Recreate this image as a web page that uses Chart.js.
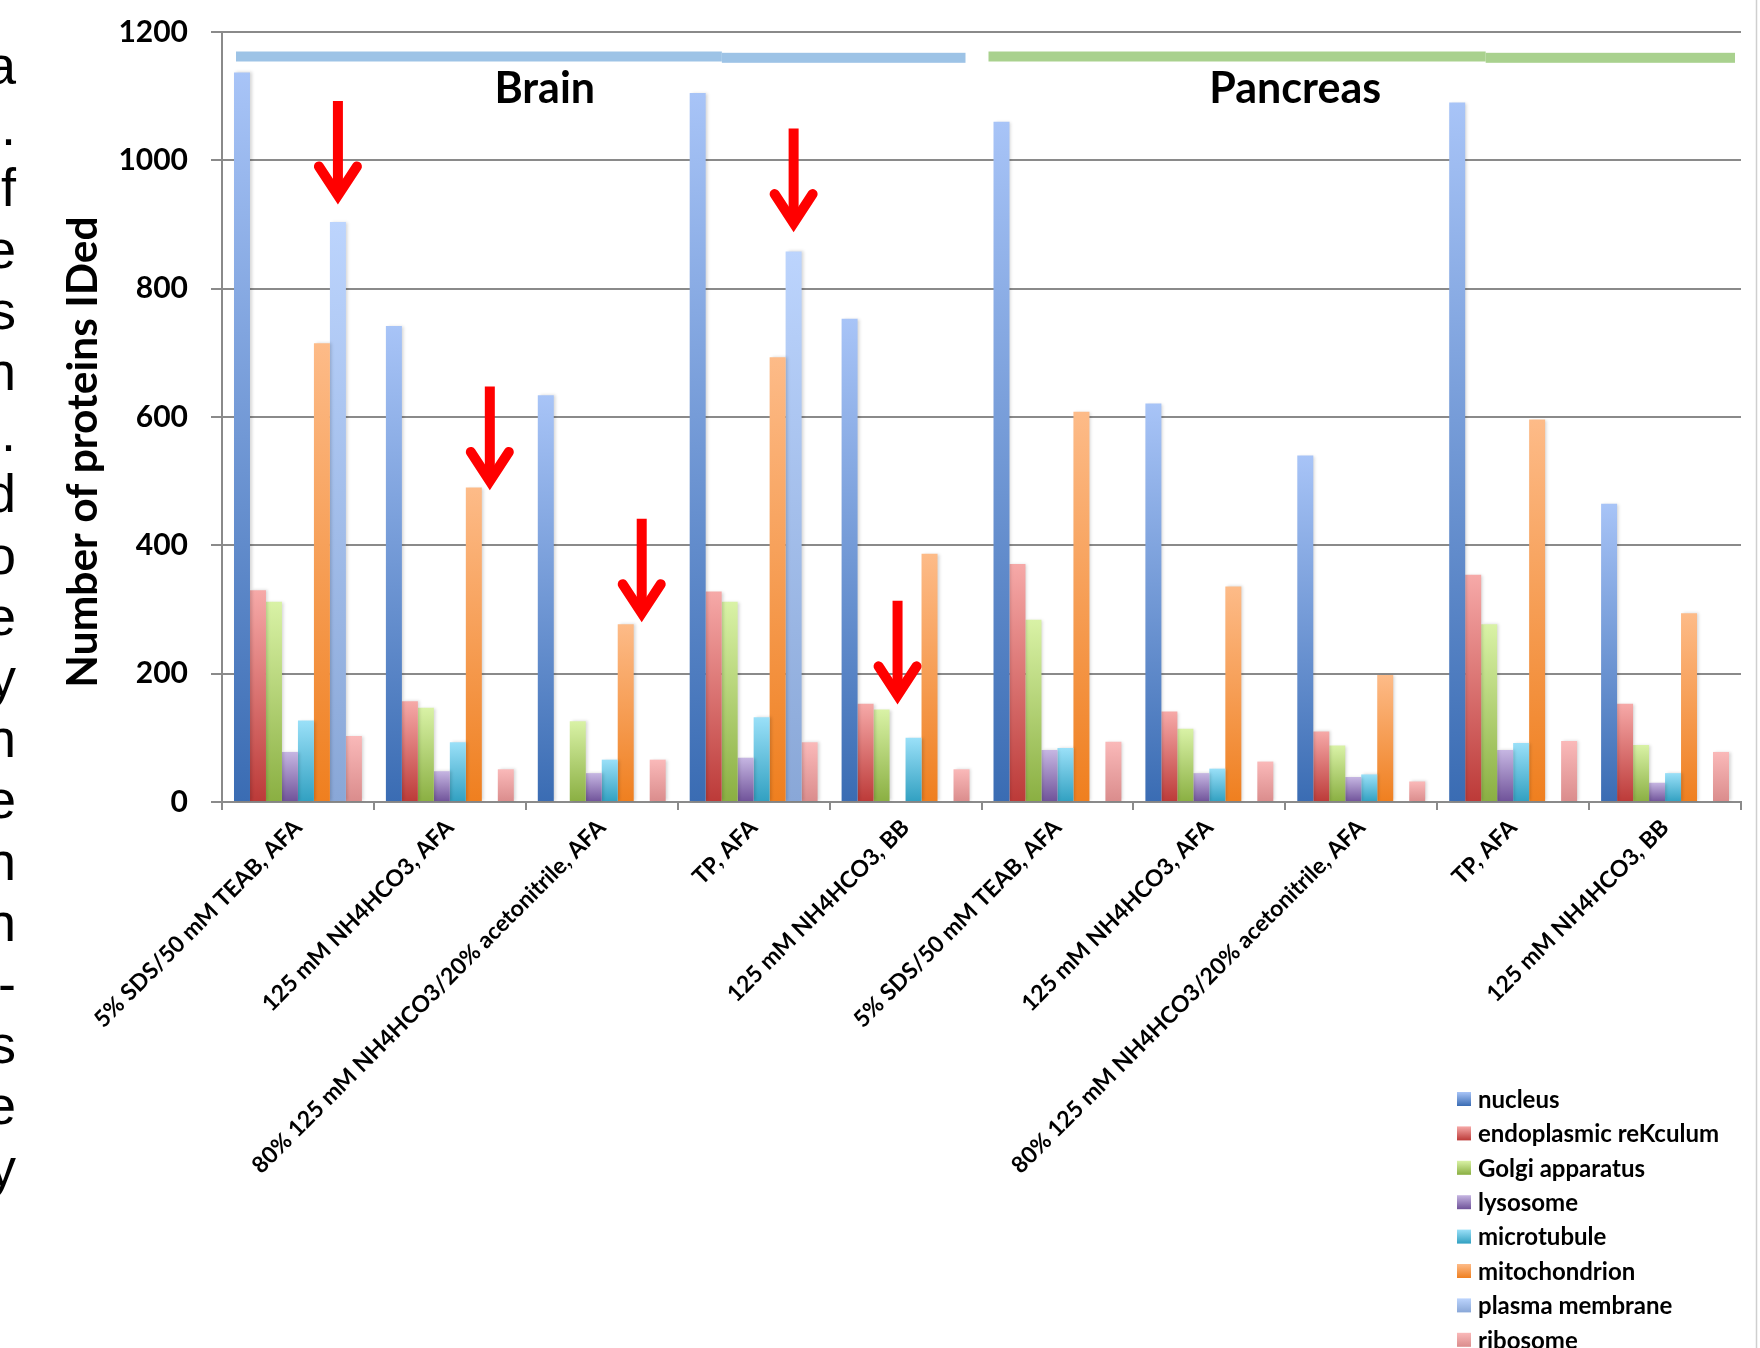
<!DOCTYPE html>
<html>
<head>
<meta charset="utf-8">
<title>Number of proteins IDed by subcellular location</title>
<script src="https://cdn.jsdelivr.net/npm/chart.js@4.4.0/dist/chart.umd.min.js"></script>
<style>
  html, body { margin: 0; padding: 0; background: #ffffff; }
  #wrap { position: relative; width: 1760px; height: 1348px; }
</style>
</head>
<body>
<div id="wrap"><canvas id="chart"></canvas></div>
<script>
// ---- data ---------------------------------------------------------------
const categories = [
  '5% SDS/50 mM TEAB, AFA',
  '125 mM NH4HCO3, AFA',
  '80% 125 mM NH4HCO3/20% acetonitrile, AFA',
  'TP, AFA',
  '125 mM NH4HCO3, BB',
  '5% SDS/50 mM TEAB, AFA',
  '125 mM NH4HCO3, AFA',
  '80% 125 mM NH4HCO3/20% acetonitrile, AFA',
  'TP, AFA',
  '125 mM NH4HCO3, BB'
];

const seriesNames = [
  'nucleus', 'endoplasmic reKculum', 'Golgi apparatus', 'lysosome',
  'microtubule', 'mitochondrion', 'plasma membrane', 'ribosome'
];

const nucleus              = [1137, 742, 634, 1105, 753, 1060, 621, 540, 1090, 465];
const endoplasmicReticulum = [330, 157, null, 328, 153, 371, 141, 110, 354, 153];
const golgiApparatus       = [312, 147, 126, 312, 144, 284, 114, 88, 277, 89];
const lysosome             = [78, 48, 45, 69, null, 81, 45, 39, 81, 30];
const microtubule          = [127, 93, 66, 132, 100, 84, 52, 43, 92, 45];
const mitochondrion        = [715, 490, 277, 693, 387, 608, 336, 198, 596, 294];
const plasmaMembrane       = [904, null, null, 858, null, null, null, null, null, null];
const ribosome             = [103, 51, 66, 93, 51, 94, 63, 32, 95, 78];

const yTicks = [0, 200, 400, 600, 800, 1000, 1200];

const tissueNames  = ['Brain', 'Pancreas'];
const tissueFirst  = [0, 5];
const tissueLast   = [4, 9];

// arrows: category index, series index, value at the arrow tip
const arrowCategory = [0, 1, 2, 3, 4];
const arrowSeries   = [6, 6, 6, 6, 3];
const arrowTip      = [932, 487, 281, 889, 153];

// line endings of the neighbouring text column
const marginGlyphs = ['a', '.', 'f', 'e', 's', 'n', '.', 'd', 'o', 'e',
                      'y', 'n', 'e', 'n', 'n', '-', 's', 'e', 'y'];

// ---- styles -------------------------------------------------------------
const FONT = 'Lato, "Open Sans", "DejaVu Sans", sans-serif';
const palette = [
  ['#a8c4f7', '#3a6cb3'],   // nucleus
  ['#f6a9a8', '#bc3a38'],   // endoplasmic reticulum
  ['#d9f2a6', '#8aaf42'],   // Golgi
  ['#c6b6e2', '#6f5299'],   // lysosome
  ['#9ae0f8', '#31a0c1'],   // microtubule
  ['#fdbb88', '#ef7f1f'],   // mitochondrion
  ['#bcd4fd', '#89a7d7'],   // plasma membrane
  ['#fab9b9', '#da8c8c']    // ribosome
];
const GROUP_FRACTION = 0.842;
const GRID = '#8a8a8a';

const seriesValues = [nucleus, endoplasmicReticulum, golgiApparatus, lysosome,
                      microtubule, mitochondrion, plasmaMembrane, ribosome];

// vertical gradient running from the top of each bar down to the baseline
function barGradient(i) {
  return function (c) {
    const [light, dark] = palette[i];
    const chart = c.chart;
    const ys = chart.scales && chart.scales.y;
    if (c.type !== 'data' || !ys || c.raw == null) return dark;
    const top = ys.getPixelForValue(c.raw);
    const base = ys.getPixelForValue(0);
    if (!isFinite(top) || !isFinite(base) || top === base) return dark;
    const g = chart.ctx.createLinearGradient(0, top, 0, base);
    g.addColorStop(0, light);
    g.addColorStop(1, dark);
    return g;
  };
}

// ---- plugins ------------------------------------------------------------
const marginTextPlugin = {
  id: 'marginText',
  beforeDraw(chart) {
    const ctx = chart.ctx;
    ctx.save();
    ctx.fillStyle = '#000';
    ctx.font = '54px "Liberation Sans", Arial, sans-serif';
    ctx.textAlign = 'right';
    ctx.textBaseline = 'alphabetic';
    marginGlyphs.forEach((g, i) => ctx.fillText(g, 16, 84 + i * 61.2));
    ctx.restore();
  }
};

const barShadowPlugin = {
  id: 'barShadow',
  beforeDatasetsDraw(chart) {
    const ctx = chart.ctx;
    ctx.save();
    ctx.shadowColor = 'rgba(0,0,0,0.16)';
    ctx.shadowBlur = 3;
    ctx.shadowOffsetX = 2;
    ctx.shadowOffsetY = 0;
  },
  afterDatasetsDraw(chart) {
    chart.ctx.restore();
  }
};

const arrowPlugin = {
  id: 'arrows',
  afterDatasetsDraw(chart) {
    const { ctx, scales: { x, y } } = chart;
    const n = chart.data.datasets.length;
    const slot = (x.width / chart.data.labels.length) * GROUP_FRACTION / n;
    const shaft = 103, wingDx = 19, wingDy = 29, miter = 8.5;
    arrowCategory.forEach((cat, k) => {
      const cx = x.getPixelForValue(cat) + (arrowSeries[k] - (n - 1) / 2) * slot;
      const tipY = y.getPixelForValue(arrowTip[k]);
      const vy = tipY - miter;
      ctx.save();
      ctx.strokeStyle = '#ff0000';
      ctx.lineWidth = 10;
      ctx.lineCap = 'butt';
      ctx.beginPath();
      ctx.moveTo(cx, tipY - shaft);
      ctx.lineTo(cx, vy);
      ctx.stroke();
      ctx.lineCap = 'round';
      ctx.lineJoin = 'miter';
      ctx.miterLimit = 10;
      ctx.beginPath();
      ctx.moveTo(cx - wingDx, vy - wingDy);
      ctx.lineTo(cx, vy);
      ctx.lineTo(cx + wingDx, vy - wingDy);
      ctx.stroke();
      ctx.restore();
    });
  }
};

const tissuePlugin = {
  id: 'tissueBands',
  afterDatasetsDraw(chart) {
    const { ctx, scales: { x } } = chart;
    const half = x.width / chart.data.labels.length / 2;
    const bandColor = ['#9dc3e6', '#a9d18e'];
    const inset = [[14, 16], [7, 6]];
    const labelShift = [-57, -66];
    tissueNames.forEach((name, k) => {
      const x0 = x.getPixelForValue(tissueFirst[k]) - half + inset[k][0];
      const x1 = x.getPixelForValue(tissueLast[k]) + half - inset[k][1];
      const xs = x0 + (x1 - x0) * 0.666;
      ctx.save();
      ctx.fillStyle = bandColor[k];
      ctx.fillRect(x0, 51.5, xs - x0, 10);
      ctx.fillRect(xs, 52.8, x1 - xs, 10);
      const mid = (x.getPixelForValue(tissueFirst[k]) + x.getPixelForValue(tissueLast[k])) / 2;
      ctx.fillStyle = '#000';
      ctx.font = 'bold 43px ' + FONT;
      ctx.textAlign = 'center';
      ctx.textBaseline = 'alphabetic';
      ctx.fillText(name, mid + labelShift[k], 103);
      ctx.restore();
    });
  }
};

const legendPlugin = {
  id: 'sideLegend',
  afterDraw(chart) {
    const ctx = chart.ctx;
    const left = 1457, top = 1099, step = 34.4, box = 14;
    ctx.save();
    ctx.font = 'bold 24px ' + FONT;
    ctx.textAlign = 'left';
    ctx.textBaseline = 'middle';
    chart.data.datasets.forEach((ds, i) => {
      const cy = top + i * step;
      const g = ctx.createLinearGradient(0, cy - box / 2, 0, cy + box / 2);
      g.addColorStop(0, palette[i][0]);
      g.addColorStop(1, palette[i][1]);
      ctx.fillStyle = g;
      ctx.fillRect(left, cy - box / 2, box, box);
      ctx.fillStyle = '#000';
      ctx.fillText(ds.label, left + box + 7, cy + 1);
    });
    ctx.restore();
  }
};

const axisTitlePlugin = {
  id: 'axisTitle',
  afterDraw(chart) {
    const ctx = chart.ctx;
    ctx.save();
    ctx.translate(83, 452);
    ctx.rotate(-Math.PI / 2);
    ctx.fillStyle = '#000';
    ctx.font = 'bold 42.5px ' + FONT;
    ctx.textAlign = 'center';
    ctx.textBaseline = 'middle';
    ctx.fillText('Number of proteins IDed', 0, 0);
    ctx.restore();
    // thin frame edge on the right
    ctx.save();
    ctx.strokeStyle = '#cfcfcf';
    ctx.lineWidth = 1.5;
    ctx.beginPath();
    ctx.moveTo(1756.5, 0);
    ctx.lineTo(1756.5, chart.height);
    ctx.stroke();
    ctx.restore();
  }
};

// ---- chart --------------------------------------------------------------
Chart.defaults.font.family = FONT;
Chart.defaults.color = '#000';

new Chart(document.getElementById('chart'), {
  type: 'bar',
  data: {
    labels: categories,
    datasets: seriesNames.map((name, i) => ({
      label: name,
      data: seriesValues[i],
      backgroundColor: barGradient(i),
      borderWidth: 0,
      categoryPercentage: GROUP_FRACTION,
      barPercentage: 1.0
    }))
  },
  options: {
    responsive: true,
    maintainAspectRatio: false,
    devicePixelRatio: 1,
    animation: false,
    layout: { padding: { top: 32, right: 19, bottom: 0, left: 0 } },
    plugins: {
      legend: { display: false },
      tooltip: { enabled: false },
      title: { display: false }
    },
    scales: {
      x: {
        ticks: {
          autoSkip: false,
          maxRotation: 45,
          minRotation: 45,
          padding: 4,
          color: '#000',
          font: { size: 23, weight: 'bold' }
        },
        grid: {
          offset: true,
          drawOnChartArea: false,
          drawTicks: true,
          tickLength: 8,
          color: GRID,
          lineWidth: 2
        },
        border: { color: GRID, width: 2 },
        afterFit(s) { s.height = 546; }
      },
      y: {
        min: 0,
        max: 1200,
        afterBuildTicks(s) { s.ticks = yTicks.map(v => ({ value: v })); },
        ticks: {
          padding: 23,
          color: '#000',
          font: { size: 30, weight: 'bold' },
          callback: (v) => String(v)
        },
        grid: {
          color: GRID,
          lineWidth: 2,
          drawTicks: true,
          tickLength: 11
        },
        border: { color: GRID, width: 2 },
        afterFit(s) {
          s.width = 222;
          s.paddingTop = 0;
          s.paddingBottom = 0;
        }
      }
    }
  },
  plugins: [marginTextPlugin, barShadowPlugin, arrowPlugin, tissuePlugin, legendPlugin, axisTitlePlugin]
});
</script>
</body>
</html>
